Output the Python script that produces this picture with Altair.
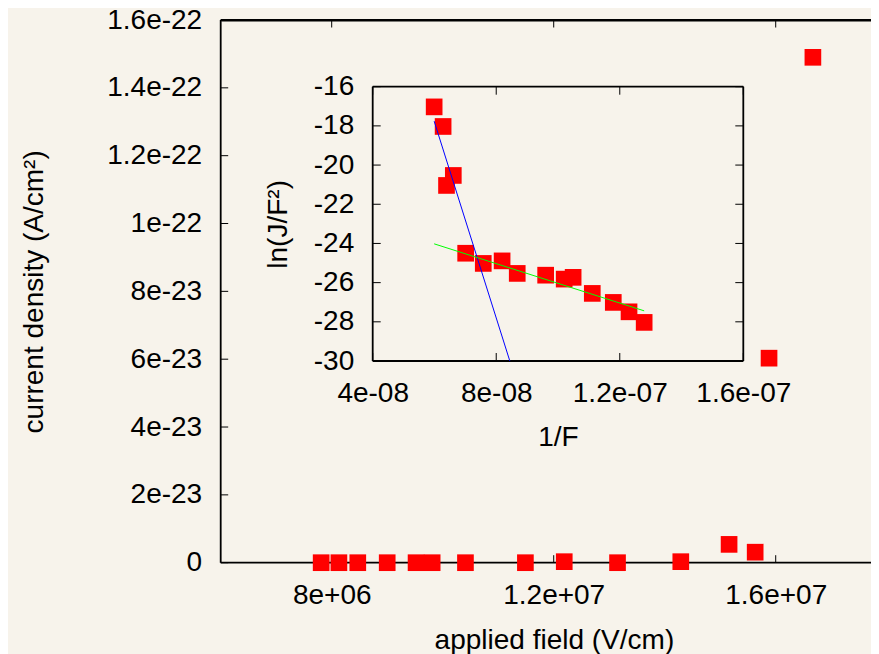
import altair as alt
import pandas as pd

# ---------------- data ----------------
# main panel: applied field (V/cm) vs current density (A/cm^2)
field = [7.81e6, 8.13e6, 8.47e6, 9.00e6, 9.52e6, 9.81e6, 10.41e6, 11.49e6,
         12.19e6, 13.15e6, 14.29e6, 15.16e6, 15.63e6, 15.88e6, 16.67e6]
current = [0.0, 0.0, 0.0, 0.0, 0.0, 0.0, 0.0, 0.0,
           3e-25, 0.0, 3e-25, 5.4e-24, 3.1e-24, 6.03e-23, 1.49e-22]

# inset: 1/F vs ln(J/F^2)
inv_field = [5.99e-8, 6.28e-8, 6.39e-8, 6.61e-8, 7.01e-8, 7.58e-8, 8.19e-8, 8.68e-8,
             9.60e-8, 10.20e-8, 10.49e-8, 11.11e-8, 11.79e-8, 12.30e-8, 12.79e-8]
ln_jf2 = [-17.03, -18.03, -21.04, -20.53, -24.50, -25.02, -24.89, -25.53,
          -25.62, -25.82, -25.73, -26.55, -27.01, -27.49, -28.03]

# fitted straight lines in the inset (end points)
fit_steep_x = [5.99e-8, 8.44e-8]
fit_steep_y = [-17.76, -30.0]
fit_shallow_x = [5.99e-8, 12.79e-8]
fit_shallow_y = [-24.02, -27.44]

# axes
main_x_ticks = [8e6, 1.2e7, 1.6e7]
main_x_labels = ["8e+06", "1.2e+07", "1.6e+07"]
main_y_ticks = [0, 2e-23, 4e-23, 6e-23, 8e-23, 1e-22, 1.2e-22, 1.4e-22, 1.6e-22]
main_y_labels = ["0", "2e-23", "4e-23", "6e-23", "8e-23", "1e-22", "1.2e-22", "1.4e-22", "1.6e-22"]
inset_x_ticks = [4e-8, 8e-8, 1.2e-7, 1.6e-7]
inset_x_labels = ["4e-08", "8e-08", "1.2e-07", "1.6e-07"]
inset_y_ticks = [-30, -28, -26, -24, -22, -20, -18, -16]
inset_y_labels = ["-30", "-28", "-26", "-24", "-22", "-20", "-18", "-16"]

MAIN_X = [6e6, 1.7717e7]
MAIN_Y = [0, 1.6e-22]
INSET_X = [4e-8, 1.6e-7]
INSET_Y = [-30, -16]

# ---------------- layout ----------------
W, H = 650.3, 542.7
INSET_XR = [152, 522.6]
INSET_YR = [341, 66.7]
TICK = 7.5
FONT = "Liberation Sans"
FS = 28
BG = "#f7f3eb"
RED = "#ff0000"


def lab_expr(vals, labs):
    e = "''"
    for v, l in reversed(list(zip(vals, labs))):
        e = f"datum.value == {v!r} ? '{l}' : ({e})"
    return e


def main_xs():
    return alt.Scale(domain=MAIN_X, range=[0, W], nice=False, zero=False)


def main_ys():
    return alt.Scale(domain=MAIN_Y, range=[H, 0], nice=False, zero=False)


def ins_xs():
    return alt.Scale(domain=INSET_X, range=INSET_XR, nice=False, zero=False)


def ins_ys():
    return alt.Scale(domain=INSET_Y, range=INSET_YR, nice=False, zero=False)


main_x_axis = alt.Axis(orient="bottom", values=main_x_ticks,
                       labelExpr=lab_expr(main_x_ticks, main_x_labels),
                       ticks=False, domain=False, grid=False, labelPadding=18.5,
                       labelFlush=False, labelOverlap=False,
                       title="applied field (V/cm)", titleX=333.2, titleY=63.6,
                       titleBaseline="top", titleAlign="center")
main_y_axis = alt.Axis(orient="left", values=main_y_ticks,
                       labelExpr=lab_expr(main_y_ticks, main_y_labels),
                       ticks=False, domain=False, grid=False, labelPadding=19,
                       labelFlush=False, labelOverlap=False,
                       title="current density (A/cm²)", titleAngle=270, titleX=-172.4,
                       titleY=H / 2, titleBaseline="bottom", titleAlign="center")
ins_x_axis = alt.Axis(orient="bottom", offset=-(H - INSET_YR[0]), values=inset_x_ticks,
                      labelExpr=lab_expr(inset_x_ticks, inset_x_labels),
                      ticks=False, domain=False, grid=False, labelPadding=18.5,
                      labelFlush=False, labelOverlap=False,
                      title="1/F", titleY=62, titleBaseline="top", titleAlign="center")
ins_y_axis = alt.Axis(orient="left", offset=-INSET_XR[0], values=inset_y_ticks,
                      labelExpr=lab_expr(inset_y_ticks, inset_y_labels),
                      ticks=False, domain=False, grid=False, labelPadding=19,
                      labelFlush=False, labelOverlap=False,
                      title="ln(J/F²)", titleAngle=270, titleX=-80.7,
                      titleBaseline="bottom", titleAlign="center")
top_axis = alt.Axis(orient="top", labels=False, ticks=False, grid=False, title=None,
                    domain=True, domainColor="black", domainWidth=1.8)


def enc_rule(df, xs, ys, xaxis=None, **kw):
    ch = alt.Chart(df).mark_rule(color="black", **kw)
    enc = dict(x=alt.X("x:Q", scale=xs(), axis=xaxis), y=alt.Y("y:Q", scale=ys(), axis=None))
    if "x2" in df.columns:
        enc["x2"] = alt.X2("x2")
    if "y2" in df.columns:
        enc["y2"] = alt.Y2("y2")
    return ch.encode(**enc)


# ---- main panel ----
main_top = enc_rule(pd.DataFrame({"x": [MAIN_X[0]], "x2": [MAIN_X[1]], "y": [MAIN_Y[1]]}),
                    main_xs, main_ys, xaxis=top_axis, strokeWidth=1.8)
main_bottom = enc_rule(pd.DataFrame({"x": [MAIN_X[0]], "x2": [MAIN_X[1]], "y": [MAIN_Y[0]]}),
                       main_xs, main_ys, strokeWidth=1.8)
main_left = enc_rule(pd.DataFrame({"x": [MAIN_X[0]], "y": [MAIN_Y[0]], "y2": [MAIN_Y[1]]}),
                     main_xs, main_ys, strokeWidth=1.8)
main_bt = enc_rule(pd.DataFrame({"x": main_x_ticks, "y": [MAIN_Y[0]] * 3, "y2": [MAIN_Y[0]] * 3}),
                   main_xs, main_ys, y2Offset=-TICK, strokeWidth=1)
main_tt = enc_rule(pd.DataFrame({"x": main_x_ticks, "y": [MAIN_Y[1]] * 3, "y2": [MAIN_Y[1]] * 3}),
                   main_xs, main_ys, y2Offset=TICK, strokeWidth=1)
main_lt = enc_rule(pd.DataFrame({"x": [MAIN_X[0]] * len(main_y_ticks), "x2": [MAIN_X[0]] * len(main_y_ticks),
                                 "y": main_y_ticks}),
                   main_xs, main_ys, x2Offset=TICK, strokeWidth=1)
main_pts = alt.Chart(pd.DataFrame({"x": field, "y": current})).mark_square(
    size=278, color=RED, opacity=1, strokeWidth=0
).encode(x=alt.X("x:Q", scale=main_xs(), axis=main_x_axis),
         y=alt.Y("y:Q", scale=main_ys(), axis=main_y_axis))

# ---- inset panel ----
ny = len(inset_y_ticks)
nx = len(inset_x_ticks)
ins_box = enc_rule(pd.DataFrame({
    "x": [INSET_X[0], INSET_X[0], INSET_X[0], INSET_X[1]],
    "x2": [INSET_X[1], INSET_X[1], INSET_X[0], INSET_X[1]],
    "y": [INSET_Y[0], INSET_Y[1], INSET_Y[0], INSET_Y[0]],
    "y2": [INSET_Y[0], INSET_Y[1], INSET_Y[1], INSET_Y[1]],
}), ins_xs, ins_ys, strokeWidth=1.8)
ins_bt = enc_rule(pd.DataFrame({"x": inset_x_ticks, "y": [INSET_Y[0]] * nx, "y2": [INSET_Y[0]] * nx}),
                  ins_xs, ins_ys, y2Offset=-TICK - 0.5, strokeWidth=1)
ins_tt = enc_rule(pd.DataFrame({"x": inset_x_ticks, "y": [INSET_Y[1]] * nx, "y2": [INSET_Y[1]] * nx}),
                  ins_xs, ins_ys, y2Offset=TICK + 0.5, strokeWidth=1)
ins_lt = enc_rule(pd.DataFrame({"x": [INSET_X[0]] * ny, "x2": [INSET_X[0]] * ny, "y": inset_y_ticks}),
                  ins_xs, ins_ys, x2Offset=TICK + 0.5, strokeWidth=1)
ins_rt = enc_rule(pd.DataFrame({"x": [INSET_X[1]] * ny, "x2": [INSET_X[1]] * ny, "y": inset_y_ticks}),
                  ins_xs, ins_ys, x2Offset=-TICK - 0.5, strokeWidth=1)
ins_pts = alt.Chart(pd.DataFrame({"x": inv_field, "y": ln_jf2})).mark_square(
    size=278, color=RED, opacity=1, strokeWidth=0
).encode(x=alt.X("x:Q", scale=ins_xs(), axis=ins_x_axis),
         y=alt.Y("y:Q", scale=ins_ys(), axis=ins_y_axis))
fit1 = alt.Chart(pd.DataFrame({"x": fit_steep_x, "y": fit_steep_y})).mark_line(
    color="#0000ff", strokeWidth=1
).encode(x=alt.X("x:Q", scale=ins_xs(), axis=None), y=alt.Y("y:Q", scale=ins_ys(), axis=None))
fit2 = alt.Chart(pd.DataFrame({"x": fit_shallow_x, "y": fit_shallow_y})).mark_line(
    color="#00ff00", strokeWidth=1
).encode(x=alt.X("x:Q", scale=ins_xs(), axis=None), y=alt.Y("y:Q", scale=ins_ys(), axis=None))

chart = alt.layer(
    main_top, main_bottom, main_left, main_bt, main_tt, main_lt,
    ins_box, ins_bt, ins_tt, ins_lt, ins_rt,
    main_pts, ins_pts, fit1, fit2,
).resolve_scale(
    x="independent", y="independent"
).properties(
    width=W, height=H,
    padding={"left": 212.7, "top": 12, "right": 0, "bottom": 91.3},
    autosize=alt.AutoSizeParams(type="none"),
    background=BG,
).configure_view(
    stroke=None
).configure_axis(
    labelFont=FONT, titleFont=FONT, labelFontSize=FS, titleFontSize=FS,
    titleFontWeight="normal", labelColor="black", titleColor="black",
)

chart.save("out.html", embed_options={"renderer": "svg", "actions": False})
